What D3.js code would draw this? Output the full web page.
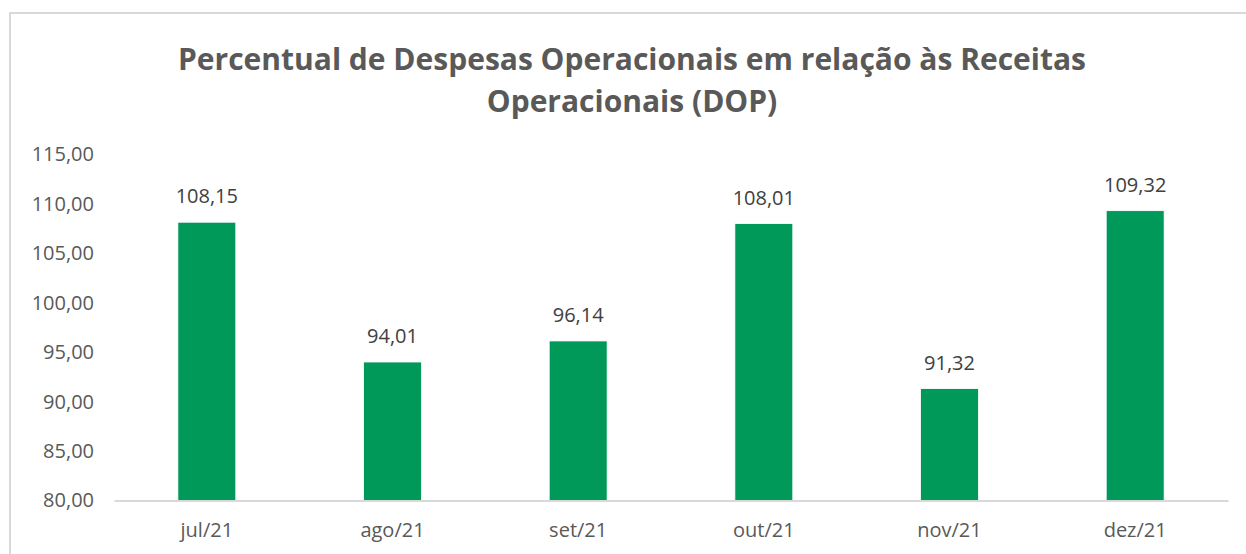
<!DOCTYPE html>
<html>
<head>
<meta charset="utf-8">
<script src="https://cdn.jsdelivr.net/npm/d3@7"></script>
<style>
  body { margin: 0; background: #fff; }
  text { font-family: "Open Sans", "Noto Sans", sans-serif; }
</style>
</head>
<body>
<svg id="chart" width="1246" height="554"></svg>
<script>
const categories = ["jul/21", "ago/21", "set/21", "out/21", "nov/21", "dez/21"];
const values = [108.15, 94.01, 96.14, 108.01, 91.32, 109.32];
const yTicks = [80, 85, 90, 95, 100, 105, 110, 115];
const titleLines = ["Percentual de Despesas Operacionais em relação às Receitas", "Operacionais (DOP)"];

const svg = d3.select("#chart");
const W = 1246, H = 554;
const plot = { left: 114, right: 1228, top: 154.5, bottom: 500.5 };
const fmt = v => d3.format(".2f")(v).replace(".", ",");

// outer chart border
svg.append("rect")
  .attr("x", 10).attr("y", 13)
  .attr("width", W + 20).attr("height", H + 20)
  .attr("fill", "#fff").attr("stroke", "#d9d9d9").attr("stroke-width", 2);

// title
svg.append("text")
  .attr("x", 632).attr("y", 0)
  .attr("text-anchor", "middle")
  .attr("fill", "#595959")
  .attr("font-size", 30).attr("font-weight", "bold")
  .selectAll("tspan").data(titleLines).join("tspan")
  .attr("x", 632).attr("y", (d, i) => 70 + i * 42)
  .text(d => d);

const x = d3.scaleBand().domain(categories)
  .range([plot.left, plot.right]).paddingInner(0.688).paddingOuter(0.344);
const y = d3.scaleLinear().domain([80, 115]).range([plot.bottom, plot.top]);

// y axis labels
const yAxis = d3.axisLeft(y).tickValues(yTicks).tickFormat(fmt).tickSize(0).tickPadding(20);
const gy = svg.append("g").attr("transform", `translate(${plot.left},0)`).call(yAxis);
gy.select(".domain").remove();
gy.selectAll("text").attr("fill", "#595959").attr("font-size", 20)
  .attr("font-family", "'Open Sans', sans-serif");

// bars
svg.append("g").selectAll("rect").data(values).join("rect")
  .attr("x", (d, i) => x(categories[i]))
  .attr("y", d => y(d))
  .attr("width", x.bandwidth())
  .attr("height", d => y(80) - y(d))
  .attr("fill", "#00995A")
  .attr("stroke", "#ffffff").attr("stroke-width", 0.8);

// x axis
const xAxis = d3.axisBottom(x).tickSize(0).tickPadding(22);
const gx = svg.append("g").attr("transform", `translate(0,${plot.bottom})`).call(xAxis);
gx.select(".domain").attr("stroke", "#d9d9d9").attr("stroke-width", 2);
gx.selectAll("text").attr("fill", "#595959").attr("font-size", 20)
  .attr("font-family", "'Open Sans', sans-serif");

// data labels
svg.append("g").selectAll("text").data(values).join("text")
  .attr("x", (d, i) => x(categories[i]) + x.bandwidth() / 2)
  .attr("y", d => y(d) - 19)
  .attr("text-anchor", "middle")
  .attr("fill", "#404040")
  .attr("font-size", 20)
  .text(d => fmt(d));
</script>
</body>
</html>
